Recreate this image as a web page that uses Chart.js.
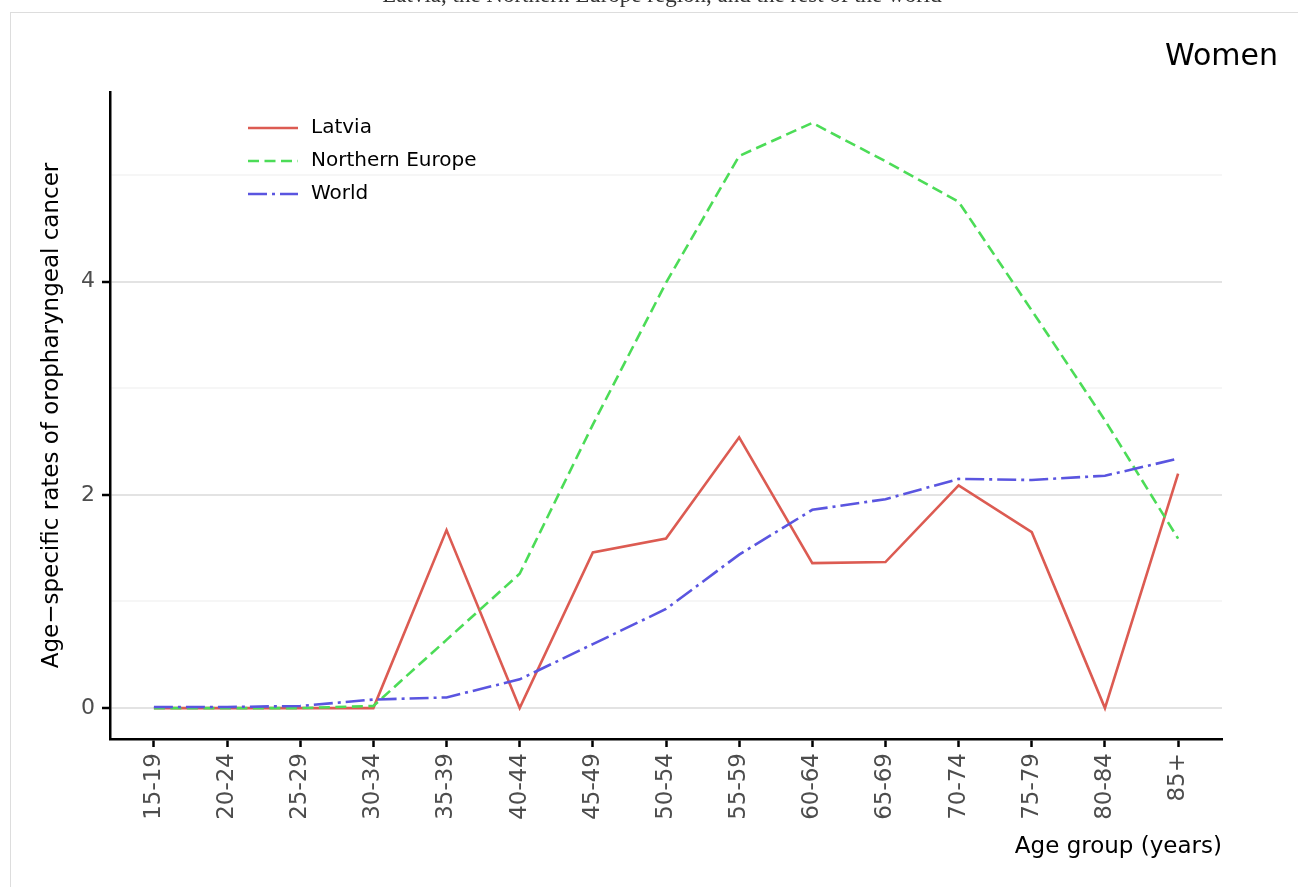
<!DOCTYPE html>
<html>
<head>
<meta charset="utf-8">
<script src="https://cdn.jsdelivr.net/npm/chart.js@4.4.1/dist/chart.umd.min.js"></script>
<style>
html,body{margin:0;padding:0;background:#fff;}
canvas{display:block;}
</style>
</head>
<body>
<canvas id="c" width="1298" height="887"></canvas>
<script>
// ---- data ----
const ageGroups = ['15-19','20-24','25-29','30-34','35-39','40-44','45-49','50-54','55-59','60-64','65-69','70-74','75-79','80-84','85+'];
const latvia = [0, 0, 0, 0, 1.67, 0, 1.46, 1.59, 2.54, 1.36, 1.37, 2.09, 1.65, 0, 2.20];
const northernEurope = [0, 0, 0, 0.02, 0.64, 1.26, 2.66, 3.99, 5.18, 5.49, 5.13, 4.75, 3.73, 2.70, 1.59];
const world = [0.01, 0.01, 0.02, 0.08, 0.10, 0.27, 0.60, 0.93, 1.44, 1.86, 1.96, 2.15, 2.14, 2.18, 2.34];
const seriesNames = ['Latvia', 'Northern Europe', 'World'];
const yGridValues = [0, 1, 2, 3, 4, 5];
const yTickLabels = [0, 2, 4];
const panelTitle = 'Women';
const clippedHeading = 'Latvia, the Northern Europe region, and the rest of the world';
const xAxisTitle = 'Age group (years)';
const yAxisTitle = 'Age\u2212specific rates of oropharyngeal cancer';

const FONT = 'DejaVu Sans';
const toPoints = arr => arr.map((v, i) => ({x: i, y: v}));

const decor = {
  id: 'decor',
  beforeDraw(chart) {
    const ctx = chart.ctx;
    ctx.save();
    ctx.fillStyle = '#fff';
    ctx.fillRect(0, 0, chart.width, chart.height);
    ctx.strokeStyle = '#dddddd';
    ctx.lineWidth = 1;
    ctx.strokeRect(10.5, 12.5, 1400, 1000);
    ctx.fillStyle = '#333';
    ctx.font = '23px "Liberation Serif"';
    ctx.textAlign = 'center';
    ctx.textBaseline = 'alphabetic';
    ctx.fillText(clippedHeading, 662, 2);
    ctx.restore();
  },
  afterDraw(chart) {
    const ctx = chart.ctx;
    const area = chart.chartArea;
    ctx.save();
    ctx.fillStyle = '#000';
    ctx.font = '30px "' + FONT + '"';
    ctx.textAlign = 'right';
    ctx.textBaseline = 'middle';
    ctx.fillText(panelTitle, 1278, 57);
    // legend
    chart.data.datasets.forEach((ds, i) => {
      const y = area.top + 36 + i * 33;
      const x0 = area.left + 138;
      ctx.strokeStyle = ds.borderColor;
      ctx.lineWidth = ds.borderWidth;
      ctx.setLineDash(ds.borderDash || []);
      ctx.beginPath();
      ctx.moveTo(x0, y);
      ctx.lineTo(x0 + 50, y);
      ctx.stroke();
      ctx.setLineDash([]);
      ctx.fillStyle = '#000';
      ctx.font = '20px "' + FONT + '"';
      ctx.textAlign = 'left';
      ctx.textBaseline = 'middle';
      ctx.fillText(ds.label, x0 + 63, y);
    });
    ctx.restore();
  }
};

new Chart(document.getElementById('c'), {
  type: 'line',
  data: {
    datasets: [
      {label: seriesNames[0], data: toPoints(latvia), borderColor: '#dc5b52', borderWidth: 2.6, borderDash: [], order: 2},
      {label: seriesNames[1], data: toPoints(northernEurope), borderColor: '#4cdc57', borderWidth: 2.6, borderDash: [11, 5.5], order: 1},
      {label: seriesNames[2], data: toPoints(world), borderColor: '#5a55e0', borderWidth: 2.6, borderDash: [19, 5, 3, 5], order: 0}
    ]
  },
  options: {
    responsive: false,
    animation: false,
    devicePixelRatio: 1,
    layout: {padding: {top: 92, right: 76, left: 0, bottom: 0}},
    elements: {point: {radius: 0}, line: {tension: 0, fill: false}},
    plugins: {legend: {display: false}, tooltip: {enabled: false}, title: {display: false}},
    scales: {
      x: {
        type: 'linear',
        min: -0.6,
        max: ageGroups.length - 1 + 0.6,
        afterBuildTicks: s => { s.ticks = ageGroups.map((_, i) => ({value: i})); },
        afterFit: s => { s.height = 148; },
        grid: {drawOnChartArea: false, drawTicks: true, tickLength: 8, tickWidth: 2.5, tickColor: '#000'},
        border: {display: true, color: '#000', width: 2.5},
        ticks: {
          autoSkip: false, minRotation: 90, maxRotation: 90, padding: 6,
          color: '#4d4d4d', font: {family: FONT, size: 23},
          callback: v => ageGroups[v]
        },
        title: {display: true, text: xAxisTitle, align: 'end', color: '#000', font: {family: FONT, size: 23}, padding: {top: 0, bottom: 26}}
      },
      y: {
        type: 'linear',
        min: -0.29,
        max: 5.78,
        afterBuildTicks: s => { s.ticks = yGridValues.map(v => ({value: v})); },
        afterFit: s => { s.width = 110; },
        grid: {
          color: c => (c.tick && yTickLabels.includes(c.tick.value)) ? '#e3e3e3' : '#f6f6f6',
          lineWidth: 2,
          drawTicks: true,
          tickLength: 8,
          tickWidth: 2.5,
          tickColor: c => (c.tick && yTickLabels.includes(c.tick.value)) ? '#000' : 'rgba(0,0,0,0)'
        },
        border: {display: true, color: '#000', width: 2.5},
        ticks: {
          padding: 7, color: '#4d4d4d', font: {family: FONT, size: 22},
          callback: v => yTickLabels.includes(v) ? String(v) : ''
        },
        title: {display: true, text: yAxisTitle, color: '#000', font: {family: FONT, size: 23}, padding: {top: 38, bottom: 0}}
      }
    }
  },
  plugins: [decor]
});
</script>
</body>
</html>
